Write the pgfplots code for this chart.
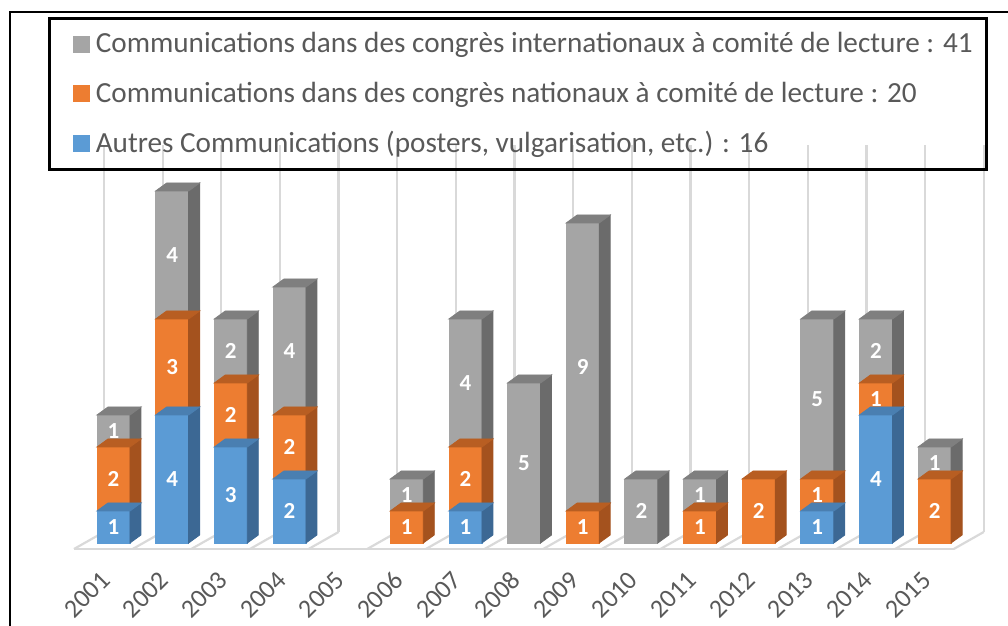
\documentclass[border=0pt]{standalone}
\usepackage{pgfplots}
\usepackage{pgfplotstable}
\pgfplotsset{compat=1.18}
\usepackage{fontspec}
\setmainfont{Carlito}
\definecolor{cblue}{HTML}{5B9BD5}
\definecolor{cblueS}{HTML}{3C6894}
\definecolor{cblueT}{HTML}{4A7FB1}
\definecolor{corange}{HTML}{ED7D31}
\definecolor{corangeS}{HTML}{A4521E}
\definecolor{corangeT}{HTML}{B85E22}
\definecolor{cgray}{HTML}{A5A5A5}
\definecolor{cgrayS}{HTML}{6B6B6B}
\definecolor{cgrayT}{HTML}{7F7F7F}
\definecolor{ctext}{HTML}{595959}
\definecolor{cgrid}{HTML}{D9D9D9}

\pgfdeclareplotmark{nothing}{}
\newcommand\boxthreed[3]{%
  \pgfmathtruncatemacro\segint{\segval}%
  \ifnum\segint>0\relax
    \pgfmathsetmacro\segH{\segint*16}%
    \fill[#1] (-8.25pt,0pt) rectangle (8.25pt,-\segH pt);
    \fill[#2] (8.25pt,0pt) -- (8.25pt,-\segH pt) -- (13.75pt,{-\segH pt+4pt}) -- (13.75pt,4pt) -- cycle;
    \fill[#3] (-8.25pt,0pt) -- (8.25pt,0pt) -- (13.75pt,4pt) -- (-2.75pt,4pt) -- cycle;
    \node[text=white, font=\bfseries\fontsize{11.5}{13}\selectfont, inner sep=0pt] at (0pt,{-0.5*\segH pt}) {\segint};
  \fi}

\pgfplotstableread{
x v
0 1
1 4
2 3
3 2
4 0
5 0
6 1
7 0
8 0
9 0
10 0
11 0
12 1
13 4
14 0
}\tblue
\pgfplotstableread{
x v
0 2
1 3
2 2
3 2
4 0
5 1
6 2
7 0
8 1
9 0
10 1
11 2
12 1
13 1
14 2
}\torange
\pgfplotstableread{
x v
0 1
1 4
2 2
3 4
4 0
5 1
6 4
7 5
8 9
9 2
10 1
11 0
12 5
13 2
14 1
}\tgray

\begin{document}
\begin{tikzpicture}
\path[use as bounding box] (0pt,0pt) rectangle (504pt,313pt);
\begin{axis}[
  at={(27.425pt,47pt)}, anchor=south west,
  scale only axis, x=29.325pt, y=16pt,
  xmin=-1, xmax=15, ymin=0.34375, ymax=12.4375,
  axis line style={draw=none},
  ytick=\empty,
  xtick={0,...,14},
  xticklabels={2001,2002,2003,2004,2005,2006,2007,2008,2009,2010,2011,2012,2013,2014,2015},
  major tick length=0pt, minor tick length=0pt,
  minor xtick={-0.162,0.838,1.838,2.838,3.838,4.838,5.838,6.838,7.838,8.838,9.838,10.838,11.838,12.838,13.838,14.838},
  xminorgrids, minor x grid style={cgrid, line width=1.1pt},
  xticklabel style={font=\fontsize{13}{15}\selectfont, text=ctext, xshift=-1.5pt, yshift=-19.5pt, rotate=45, anchor=east},
  clip=false,
  stack plots=y,
  legend image code/.code={\path (-4pt,0pt); \fill[#1, draw=none] (0pt,-4.25pt) rectangle (8.5pt,4.25pt);},
  legend cell align=left,
  legend style={
    at={(axis description cs:-0.0073,1.3307)}, anchor=north west,
    draw=black, line width=1.4pt, fill=none,
    inner xsep=7pt, inner ysep=0.6pt, row sep=0pt,
    font=\fontsize{14.6}{17}\selectfont,
    nodes={text=ctext, inner xsep=0pt, inner ysep=0pt, minimum height=24.75pt},
    /tikz/every odd column/.append style={column sep=3pt},
  },
]
% floor
\draw[cgrid, line width=1.3pt] (axis cs:-0.6735,-0.1875) -- (axis cs:14.3265,-0.1875);
\draw[cgrid, line width=1.1pt] (axis cs:-0.162,0.34375) -- (axis cs:-0.6735,-0.1875);
\draw[cgrid, line width=1.1pt] (axis cs:0.838,0.34375) -- (axis cs:0.3265,-0.1875);
\draw[cgrid, line width=1.1pt] (axis cs:1.838,0.34375) -- (axis cs:1.3265,-0.1875);
\draw[cgrid, line width=1.1pt] (axis cs:2.838,0.34375) -- (axis cs:2.3265,-0.1875);
\draw[cgrid, line width=1.1pt] (axis cs:3.838,0.34375) -- (axis cs:3.3265,-0.1875);
\draw[cgrid, line width=1.1pt] (axis cs:4.838,0.34375) -- (axis cs:4.3265,-0.1875);
\draw[cgrid, line width=1.1pt] (axis cs:5.838,0.34375) -- (axis cs:5.3265,-0.1875);
\draw[cgrid, line width=1.1pt] (axis cs:6.838,0.34375) -- (axis cs:6.3265,-0.1875);
\draw[cgrid, line width=1.1pt] (axis cs:7.838,0.34375) -- (axis cs:7.3265,-0.1875);
\draw[cgrid, line width=1.1pt] (axis cs:8.838,0.34375) -- (axis cs:8.3265,-0.1875);
\draw[cgrid, line width=1.1pt] (axis cs:9.838,0.34375) -- (axis cs:9.3265,-0.1875);
\draw[cgrid, line width=1.1pt] (axis cs:10.838,0.34375) -- (axis cs:10.3265,-0.1875);
\draw[cgrid, line width=1.1pt] (axis cs:11.838,0.34375) -- (axis cs:11.3265,-0.1875);
\draw[cgrid, line width=1.1pt] (axis cs:12.838,0.34375) -- (axis cs:12.3265,-0.1875);
\draw[cgrid, line width=1.1pt] (axis cs:13.838,0.34375) -- (axis cs:13.3265,-0.1875);
\draw[cgrid, line width=1.1pt] (axis cs:14.838,0.34375) -- (axis cs:14.3265,-0.1875);

\addlegendimage{fill=cgray}
\addlegendentry{Communications dans des congrès internationaux à comité de lecture : 41}
\addlegendimage{fill=corange}
\addlegendentry{Communications dans des congrès nationaux à comité de lecture : 20}
\addlegendimage{fill=cblue}
\addlegendentry{Autres Communications (posters, vulgarisation, etc.) : 16}

\addplot[forget plot, scatter, only marks, mark=nothing,
  visualization depends on={\thisrow{v}\as\segval},
  scatter/@pre marker code/.code={\boxthreed{cblue}{cblueS}{cblueT}},
  scatter/@post marker code/.code={}]
  table[x=x,y=v] {\tblue};
\addplot[forget plot, scatter, only marks, mark=nothing,
  visualization depends on={\thisrow{v}\as\segval},
  scatter/@pre marker code/.code={\boxthreed{corange}{corangeS}{corangeT}},
  scatter/@post marker code/.code={}]
  table[x=x,y=v] {\torange};
\addplot[forget plot, scatter, only marks, mark=nothing,
  visualization depends on={\thisrow{v}\as\segval},
  scatter/@pre marker code/.code={\boxthreed{cgray}{cgrayS}{cgrayT}},
  scatter/@post marker code/.code={}]
  table[x=x,y=v] {\tgray};
\end{axis}
\draw[black, line width=1pt] (4.75pt,0pt) -- (4.75pt,307pt) -- (504pt,307pt);
\end{tikzpicture}
\end{document}
